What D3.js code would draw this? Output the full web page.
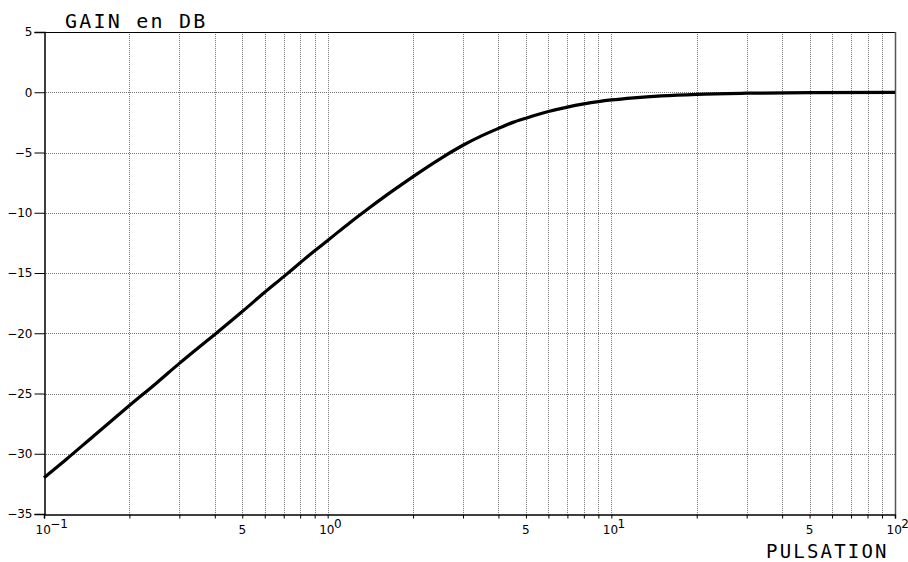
<!DOCTYPE html>
<html><head><meta charset="utf-8">
<script src="https://cdn.jsdelivr.net/npm/d3@7"></script>
<style>body{margin:0;background:#fff;} svg{display:block;}</style>
</head><body>
<svg id="c" width="908" height="562"></svg>
<script>
// Data
const pulsation = [0.1, 0.12, 0.15, 0.2, 0.25, 0.3, 0.35, 0.4, 0.5, 0.6, 0.7, 0.8, 0.9, 1, 1.2, 1.4, 1.6, 1.8, 2, 2.5, 3, 3.5, 4, 4.5, 5, 6, 7, 8, 9, 10, 12, 15, 20, 30, 50, 100];
const gainDB    = [-32.0, -30.45, -28.5, -26.0, -24.1, -22.5, -21.2, -20.1, -18.2, -16.6, -15.3, -14.15, -13.15, -12.3, -10.8, -9.6, -8.6, -7.75, -7.0, -5.5, -4.4, -3.6, -3.0, -2.5, -2.15, -1.6, -1.23, -0.97, -0.78, -0.64, -0.46, -0.3, -0.17, -0.08, -0.03, -0.01];
const yTicks = [5, 0, -5, -10, -15, -20, -25, -30, -35];
const decades = [0.1, 1, 10, 100];
const decadeExp = ["-1", "0", "1", "2"];
const fiveTicks = [0.5, 5, 50];
const minorTicks = [];
decades.slice(0,3).forEach(d => { for (let k=2;k<=9;k++) minorTicks.push(d*k); });

const L=44, R=895, T=32, B=514;
const svg = d3.select("#c");
const x = d3.scaleLog().domain([0.1,100]).range([L,R]);
const y = d3.scaleLinear().domain([-35,5]).range([B,T]);

// grid
const grid = svg.append("g");
grid.selectAll("line.v").data(minorTicks.concat(decades.slice(1,3))).enter().append("line")
  .attr("x1", d=>Math.round(x(d))+0.5).attr("x2", d=>Math.round(x(d))+0.5)
  .attr("y1", T).attr("y2", B)
  .attr("stroke", "#777").attr("stroke-width", 1).attr("stroke-dasharray", "1,1");
grid.selectAll("line.h").data(yTicks.filter(v=>v>-35 && v<5)).enter().append("line")
  .attr("y1", d=>Math.round(y(d))+0.5).attr("y2", d=>Math.round(y(d))+0.5)
  .attr("x1", L).attr("x2", R)
  .attr("stroke", "#777").attr("stroke-width", 1).attr("stroke-dasharray", "1,1");

// frame: top and right
svg.append("line").attr("x1",L).attr("x2",R+0.5).attr("y1",T+0.5).attr("y2",T+0.5).attr("stroke","#000");
svg.append("line").attr("x1",R+0.5).attr("x2",R+0.5).attr("y1",T).attr("y2",B).attr("stroke","#555").attr("stroke-width",1.5);

// y axis
const yAxis = d3.axisLeft(y).tickValues(yTicks).tickSize(10).tickPadding(2)
  .tickFormat(d => d < 0 ? "\u2212" + (-d) : String(d));
const gy = svg.append("g").attr("transform", `translate(${L+0.5},0)`).call(yAxis);
gy.select(".domain").attr("stroke","#000").attr("stroke-width",1.5);
gy.selectAll("text").style("font-family","'DejaVu Sans', Verdana, sans-serif").style("font-size","12px").attr("fill","#000");

// x axis
const xAxis = d3.axisBottom(x).tickValues(minorTicks.concat(decades)).tickSize(4).tickFormat("");
const gx = svg.append("g").attr("transform", `translate(0,${B+0.5})`).call(xAxis);
gx.select(".domain").attr("stroke","#000").attr("stroke-width",1.5);

// x labels
const lab = svg.append("g").style("font-family","'DejaVu Sans', Verdana, sans-serif").attr("fill","#000");
lab.selectAll("text.f").data(fiveTicks).enter().append("text")
  .attr("x", d=>x(d)).attr("y", 534).attr("text-anchor","middle").style("font-size","12px").text("5");
decades.forEach((d,i) => {
  const t = lab.append("text").attr("y", 534).style("font-size","12px");
  t.append("tspan").attr("x", x(d)-8.5).text("10");
  t.append("tspan").attr("dy", -6).attr("dx", -0.5).style("font-size","12px").text(decadeExp[i].replace("-","\u2212"));
});

// curve
const line = d3.line().x((d,i)=>x(pulsation[i])).y(d=>y(d)).curve(d3.curveMonotoneX);
svg.append("path").datum(gainDB).attr("d", line).attr("fill","none").attr("stroke","#000").attr("stroke-width",3.2);

// titles
svg.append("text").attr("x",65).attr("y",28).style("letter-spacing","2.2px")
  .style("font-family","'DejaVu Sans Mono', monospace").style("font-size","20px").text("GAIN en DB");
svg.append("text").attr("x",766).attr("y",558).style("letter-spacing","2.2px")
  .style("font-family","'DejaVu Sans Mono', monospace").style("font-size","19px").text("PULSATION");
</script>
</body></html>
